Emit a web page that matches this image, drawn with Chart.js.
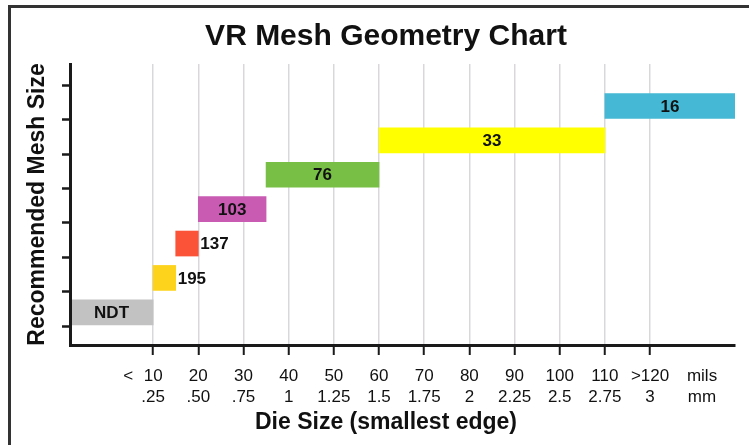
<!DOCTYPE html>
<html><head><meta charset="utf-8">
<script src="https://cdn.jsdelivr.net/npm/chart.js@4.4.1/dist/chart.umd.min.js"></script>
<style>
html,body{margin:0;padding:0;background:#fff;overflow:hidden;width:749px;height:445px;}
#frame{position:absolute;left:8px;top:5px;width:900px;height:700px;border:3px solid #333;box-sizing:border-box;}
#c{position:absolute;left:0;top:0;}
</style></head><body>
<div id="frame"></div>
<canvas id="c" width="749" height="445"></canvas>
<script>
// ---- data ----
const barLabels = ['NDT', '195', '137', '103', '76', '33', '16'];
const barStart  = [-8.4, 10, 15, 20, 35, 60, 110];
const barEnd    = [10, 15, 20, 35, 60, 110, 138.8];
const barRow    = [0.4, 1.4, 2.4, 3.4, 4.4, 5.4, 6.4];
const barColors = ['#c2c2c2', '#fdd31c', '#fa5338', '#c95bb3', '#78c045', '#ffff00', '#45b8d5'];
const xTickValues = [10, 20, 30, 40, 50, 60, 70, 80, 90, 100, 110, 120];
const milsLabels  = ['10', '20', '30', '40', '50', '60', '70', '80', '90', '100', '110', '>120'];
const mmLabels    = ['.25', '.50', '.75', '1', '1.25', '1.5', '1.75', '2', '2.25', '2.5', '2.75', '3'];
const unitTick    = 131.5;
const unitLabels  = ['mils', 'mm'];
const lessThan    = '<';
const yTickValues = [0, 1, 2, 3, 4, 5, 6, 7];

const SANS = "'Liberation Sans', Arial, sans-serif";
Chart.defaults.font.family = SANS;
Chart.defaults.color = '#111';

const labelPlugin = {
  id: 'barLabels',
  afterDatasetsDraw(chart) {
    const ctx = chart.ctx;
    const meta = chart.getDatasetMeta(0);
    ctx.save();
    ctx.font = 'bold 17px ' + SANS;
    ctx.fillStyle = '#111';
    ctx.textBaseline = 'middle';
    meta.data.forEach((bar, i) => {
      const p = bar.getProps(['x', 'base', 'y'], true);
      const left = Math.min(p.x, p.base), right = Math.max(p.x, p.base);
      const text = barLabels[i];
      const w = ctx.measureText(text).width;
      if (w + 8 < right - left) {
        ctx.textAlign = 'center';
        ctx.fillText(text, (left + right) / 2, p.y + 1);
      } else {
        ctx.textAlign = 'left';
        ctx.fillText(text, right + 2, p.y + 1);
      }
    });
    const xs = chart.scales.x;
    ctx.font = '17px ' + SANS;
    ctx.textAlign = 'center';
    ctx.fillText(lessThan, xs.getPixelForValue(xTickValues[0]) - 25, xs.top + 10 + 11 + 10.5);
    ctx.restore();
  }
};

const gridColor = (c) => (c.tick && c.tick.value === unitTick) ? 'rgba(0,0,0,0)' : '#dad7db';
const tickColor = (c) => (c.tick && c.tick.value === unitTick) ? 'rgba(0,0,0,0)' : '#1a1a1a';

new Chart(document.getElementById('c'), {
  type: 'bar',
  data: {
    labels: barLabels,
    datasets: [{
      data: barLabels.map((l, i) => ({ x: [barStart[i], barEnd[i]], y: barRow[i] })),
      backgroundColor: barColors,
      borderWidth: 0,
      barThickness: 25,
      borderSkipped: false
    }]
  },
  options: {
    indexAxis: 'y',
    responsive: false,
    animation: false,
    devicePixelRatio: 1,
    layout: { padding: { top: 10, left: 37, right: 14, bottom: 0 } },
    plugins: {
      legend: { display: false },
      tooltip: { enabled: false },
      title: {
        display: true, text: 'VR Mesh Geometry Chart', color: '#111',
        font: { size: 30, weight: 'bold' }, padding: { top: 8.6, bottom: 9.4 }
      },
      subtitle: {
        display: true, position: 'bottom', text: 'Die Size (smallest edge)', color: '#111',
        font: { size: 23, weight: 'bold' }, padding: { top: 1.2, bottom: 8.2 }
      }
    },
    scales: {
      x: {
        type: 'linear', min: -8.4, max: 138.8, offset: false,
        afterBuildTicks: (s) => { s.ticks = xTickValues.concat([unitTick]).map(v => ({ value: v })); },
        afterFit: (s) => { s.height = 63; },
        ticks: {
          autoSkip: false, maxRotation: 0, minRotation: 0, padding: 11, color: '#111',
          font: { size: 17, lineHeight: 21 / 17 },
          callback: (v) => {
            const i = xTickValues.indexOf(v);
            return i >= 0 ? [milsLabels[i], mmLabels[i]] : unitLabels;
          }
        },
        grid: { color: gridColor, lineWidth: 1.5, tickLength: 10, tickColor: tickColor, tickWidth: 2, offset: false },
        border: { display: true, color: '#1a1a1a', width: 3, z: 1 }
      },
      y: {
        type: 'linear', min: -0.55, max: 7.62, offset: false,
        afterBuildTicks: (s) => { s.ticks = yTickValues.map(v => ({ value: v })); },
        ticks: { display: false },
        grid: { drawOnChartArea: false, tickLength: 8, tickColor: '#1a1a1a', tickWidth: 2.5, color: '#1a1a1a', offset: false },
        border: { display: true, color: '#1a1a1a', width: 3, z: 1 },
        title: {
          display: true, text: 'Recommended Mesh Size', color: '#111',
          font: { size: 23, weight: 'bold' }, padding: { top: -13.3, bottom: 10.7 }
        }
      }
    }
  },
  plugins: [labelPlugin]
});
</script></body></html>
